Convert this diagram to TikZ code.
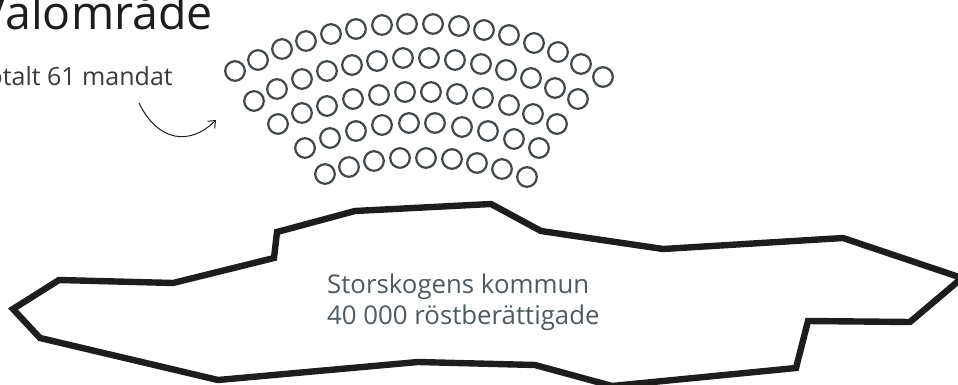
\documentclass[tikz,border=0pt]{standalone}
\usepackage{fontspec}
\setmainfont{Open Sans}
\usetikzlibrary{arrows.meta}
\definecolor{ink}{HTML}{1D1D1B}
\definecolor{seat}{HTML}{41484C}
\definecolor{labelgray}{HTML}{4E5960}
\definecolor{subgray}{HTML}{3A3A3A}
\begin{document}
\begin{tikzpicture}[x=1pt,y=-1pt,
  seatstyle/.style={circle, draw=seat, line width=2.2pt, minimum size=19.6pt, inner sep=0pt},
  titlestyle/.style={inner sep=0pt, text=ink, font=\fontsize{46.5}{55}\selectfont},
  substyle/.style={inner sep=0pt, text=subgray, font=\fontsize{25}{30}\selectfont},
  labelstyle/.style={inner sep=0pt, text=labelgray, font=\fontsize{25.8}{31}\selectfont},
  borderstyle/.style={draw=ink, line width=6.4pt, line join=miter},
  pointer/.style={draw=ink, line width=1pt, -{Straight Barb[length=6pt,width=10pt]}}]
\useasboundingbox (0,0) rectangle (958,385);
\clip (0,0) rectangle (958,385);
% seats
\foreach \p [count=\i] in {
  (235,71),(258,60),(282,49),(306,41),(331,34),(356,29),(382,25),(407,24),(433,24),(459,26),(484,30),(509,35),(534,43),(558,52),(581,64),(603,77),
  (254,101),(277,89),(302,79),(327,71),(352,65),(377,61),(403,58),(429,58),(455,60),(481,64),(506,70),(531,78),(555,88),(578,99),
  (278,124),(302,113),(327,106),(353,99),(379,95),(405,92),(431,92),(457,94),(483,98),(509,105),(533,114),(557,124),
  (305,148),(330,138),(356,131),(382,125),(409,123),(435,123),(462,127),(488,131),(514,139),(539,148),
  (325,174),(349,167),(374,161),(400,158),(426,158),(452,159),(477,163),(502,169),(527,177)}
  \node[seatstyle] (s\i) at \p {};
% municipality border
\draw[borderstyle] (13,309) -- (59,280) -- (173,283) -- (274,258) -- (277,232) -- (355,211)
  -- (491,204) -- (541,231) -- (663,249) -- (843,238) -- (962,278) -- (910,322) -- (808,321)
  -- (796,368) -- (612,386) -- (535,365) -- (418,362) -- (218,380) -- (40,338) -- cycle;
% texts
\node[titlestyle, anchor=base east] (title) at (213,29.5) {Valområde};
\node[substyle, anchor=base east] (total) at (173,86) {Totalt 61 mandat};
\node[labelstyle, anchor=base west] (kommun) at (327,293) {Storskogens kommun};
\node[labelstyle, anchor=base west] (voters) at (327,324) {40 000 röstberättigade};
% pointer
\coordinate (pstart) at (139,103);
\coordinate (pend) at (216,120);
\draw[pointer] (pstart) .. controls (158,142) and (190,146) .. (pend);
\end{tikzpicture}
\end{document}
